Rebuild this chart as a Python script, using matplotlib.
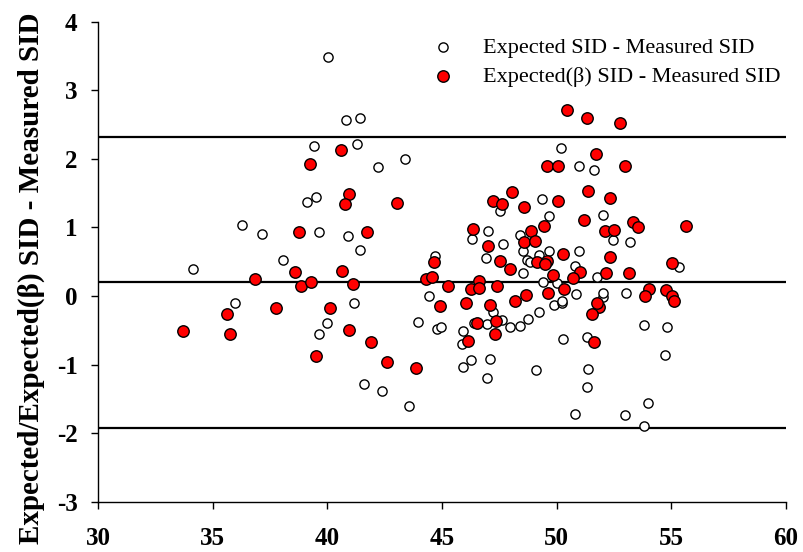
import matplotlib
matplotlib.use('Agg')
import matplotlib.pyplot as plt
import numpy as np

plt.rcParams['font.family'] = ['Liberation Serif', 'DejaVu Serif']
plt.rcParams['axes.unicode_minus'] = False

# Expected SID - Measured SID
open_x = [34.14, 35.96, 36.25, 37.15, 38.07, 39.09, 39.48, 39.41, 39.63, 39.63,
          39.99, 40.02, 40.81, 41.41, 41.27, 42.19, 43.38, 40.91, 41.41, 41.16,
          41.59, 42.39, 43.57, 43.97, 44.68, 44.43, 44.77, 44.97, 45.90, 45.87,
          46.28, 45.93, 47.08, 46.98, 46.40, 46.98, 47.21, 47.63, 47.98, 48.42,
          48.77, 49.24, 49.08, 49.89, 50.24, 50.28, 46.92, 47.01, 46.30, 47.67,
          48.40, 48.55, 48.55, 47.53, 49.35, 49.68, 50.20, 50.97, 51.61, 52.03,
          49.24, 49.68, 50.97, 50.80, 51.77, 49.42, 50.00, 50.22, 52.02, 52.04,
          52.45, 53.21, 53.03, 53.81, 54.80, 55.35, 51.32, 54.75, 51.36, 51.32,
          54.01, 50.81, 53.00, 53.81, 50.85, 48.70, 48.84]
open_y = [0.40, -0.11, 1.03, 0.90, 0.52, 1.37, 1.44, 2.19, 0.93, -0.55,
          -0.39, 3.48, 2.56, 2.59, 2.21, 1.88, 1.99, 0.88, 0.67, -0.11,
          -1.28, -1.38, -1.60, -0.38, 0.58, 0.00, -0.48, -0.45, -0.51, -0.70,
          -0.93, -1.04, -0.92, -1.20, -0.40, -0.41, -0.23, -0.35, -0.45, -0.44,
          -0.34, -0.24, -1.08, -0.13, -0.11, -0.63, 0.56, 0.95, 0.83, 0.76,
          0.89, 0.65, 0.33, 1.24, 1.42, 1.17, 2.16, 1.90, 1.84, 1.18,
          0.60, 0.65, 0.66, 0.43, 0.28, 0.21, 0.19, -0.08, -0.02, 0.05,
          0.82, 0.78, 0.05, -0.42, -0.46, 0.42, -0.60, -0.86, -1.06, -1.33,
          -1.56, -1.72, -1.74, -1.90, 0.03, 0.52, 0.50]

# Expected(beta) SID - Measured SID
red_x = [33.68, 35.60, 35.76, 36.83, 37.74, 38.57, 38.83, 39.27, 38.77, 39.24,
         39.48, 40.10, 40.59, 40.93, 40.75, 40.63, 41.13, 40.95, 41.71, 41.90,
         42.61, 43.05, 43.85, 44.29, 44.58, 44.64, 44.93, 45.25, 46.33, 47.00,
         47.53, 47.96, 46.61, 46.26, 46.62, 47.40, 46.05, 47.09, 47.35, 46.54,
         47.30, 46.14, 48.17, 48.65, 49.63, 50.32, 49.86, 47.23, 47.60, 48.06,
         48.57, 48.58, 48.90, 49.05, 49.45, 49.15, 49.59, 49.49, 49.59, 50.04,
         50.04, 50.45, 51.34, 52.77, 51.72, 53.00, 51.37, 52.34, 51.20, 53.33,
         53.57, 52.12, 52.51, 55.64, 50.28, 52.34, 55.04, 51.03, 50.71, 52.15,
         53.18, 54.05, 53.87, 54.78, 55.03, 55.14, 51.83, 51.54, 51.65, 51.75]
red_y = [-0.51, -0.27, -0.55, 0.24, -0.18, 0.35, 0.15, 0.20, 0.93, 1.92,
         -0.87, -0.17, 2.13, 1.49, 1.34, 0.36, 0.17, -0.50, 0.93, -0.67,
         -0.96, 1.35, -1.05, 0.24, 0.27, 0.49, -0.15, 0.14, 0.98, 0.73,
         0.51, 0.39, 0.22, 0.10, 0.11, 0.14, -0.11, -0.13, -0.36, -0.39,
         -0.55, -0.66, -0.08, 0.01, 0.05, 0.10, 0.30, 1.39, 1.34, 1.51,
         1.29, 0.79, 0.94, 0.80, 1.02, 0.49, 0.51, 0.46, 1.90, 1.89,
         1.38, 2.71, 2.60, 2.52, 2.07, 1.89, 1.53, 1.43, 1.10, 1.08,
         1.00, 0.95, 0.96, 1.02, 0.61, 0.57, 0.48, 0.35, 0.26, 0.33,
         0.34, 0.10, 0.00, 0.08, 0.00, -0.08, -0.16, -0.26, -0.67, -0.10]

# mean and limits of agreement
ref_lines = [2.32, 0.20, -1.92]

fig = plt.figure(figsize=(8.04, 5.52), dpi=100)
ax = fig.add_axes([0.1223, 0.0911, 0.855, 0.8698])

for yv in ref_lines:
    ax.axhline(yv, color='black', lw=1.6, zorder=1)

ax.scatter(open_x, open_y, s=44, facecolor='white', edgecolor='black',
           linewidth=1.0, zorder=2, label='Expected SID - Measured SID')
ax.scatter(red_x, red_y, s=68, facecolor='#ff0000', edgecolor='black',
           linewidth=1.0, zorder=3, label='Expected(\u03b2) SID - Measured SID')

ax.set_xlim(30, 60)
ax.set_ylim(-3, 4)
ax.set_xticks(np.arange(30, 61, 5))
ax.set_yticks(np.arange(-3, 5, 1))

for s in ['top', 'right']:
    ax.spines[s].set_visible(False)
for s in ['left', 'bottom']:
    ax.spines[s].set_linewidth(1.0)

ax.tick_params(direction='out', length=5, width=1.0, labelsize=18)
ax.tick_params(axis='x', pad=13)
ax.tick_params(axis='y', pad=10)
for lbl in ax.get_xticklabels() + ax.get_yticklabels():
    lbl.set_fontweight('bold')

ax.set_ylabel('Expected/Expected(\u03b2) SID - Measured SID',
              fontsize=21, fontweight='bold')
ax.yaxis.set_label_coords(-0.078, 0.465)

ax.legend(loc='upper left', bbox_to_anchor=(0.45, 0.995), frameon=False,
          fontsize=16, handletextpad=0.8, labelspacing=0.4,
          borderaxespad=0.2, scatterpoints=1)

fig.savefig('out.png', dpi=100)
